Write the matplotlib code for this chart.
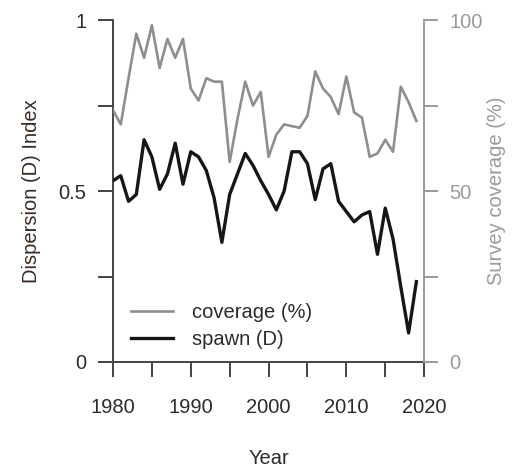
import matplotlib
matplotlib.use("Agg")
import matplotlib.pyplot as plt

years = list(range(1980, 2020))
spawn = [0.53, 0.545, 0.47, 0.49, 0.65, 0.60, 0.505, 0.55, 0.64, 0.52,
         0.615, 0.60, 0.56, 0.48, 0.35, 0.49, 0.55, 0.61, 0.575, 0.53,
         0.49, 0.445, 0.50, 0.615, 0.615, 0.58, 0.475, 0.565, 0.58, 0.47,
         0.44, 0.41, 0.43, 0.44, 0.315, 0.45, 0.36, 0.22, 0.085, 0.235]
coverage = [73.7, 69.5, 83, 96, 89, 98.5, 86, 94.5, 89, 94.5,
            80, 76.5, 83, 82, 82, 58.5, 71, 82, 75, 79,
            60, 66.5, 69.5, 69, 68.5, 72, 85, 80, 77.5, 72.5,
            83.5, 73, 71.5, 60, 61, 65, 61.5, 80.5, 76, 70.5]

x_ticks = [1980, 1985, 1990, 1995, 2000, 2005, 2010, 2015, 2020]
x_labels = ["1980", "", "1990", "", "2000", "", "2010", "", "2020"]
d_ticks = [0, 0.25, 0.5, 0.75, 1]
d_labels = ["0", "", "0.5", "", "1"]
cov_ticks = [0, 25, 50, 75, 100]
cov_labels = ["0", "", "50", "", "100"]

DARK = "#2b2b2b"
GREY = "#8e8e8e"
AXIS_GREY = "#9a9a9a"

plt.rcParams.update({
    "font.family": ["Liberation Sans", "DejaVu Sans"],
    "font.size": 14.5,
})

fig = plt.figure(figsize=(5.23, 4.68), dpi=100)
ax = fig.add_axes([0.216, 0.2265, 0.595, 0.7305])
ax2 = ax.twinx()

ax.plot(years, spawn, color="#161616", lw=2.4, label="spawn (D)", zorder=3)
ax2.plot(years, coverage, color=GREY, lw=1.9, label="coverage (%)")

ax.set_xlim(1980, 2020)
ax.set_ylim(0, 1)
ax2.set_ylim(0, 100)

ax.set_xticks(x_ticks, x_labels)
ax.set_yticks(d_ticks, d_labels)
ax2.set_yticks(cov_ticks, cov_labels)

for side in ("top", "right"):
    ax.spines[side].set_visible(False)
for side in ("top", "left", "bottom"):
    ax2.spines[side].set_visible(False)
ax.spines["left"].set_color("#444444")
ax.spines["bottom"].set_color("#444444")
ax2.spines["right"].set_color(AXIS_GREY)
for sp in ("left", "bottom"):
    ax.spines[sp].set_linewidth(1.4)
ax2.spines["right"].set_linewidth(1.4)

ax.tick_params(axis="both", direction="out", length=11, width=1.4,
               color="#444444", labelcolor=DARK, pad=8)
ax.tick_params(axis="x", pad=15)
ax2.tick_params(axis="y", direction="out", length=10, width=1.4,
                color=AXIS_GREY, labelcolor=AXIS_GREY, pad=8)

ax.set_xlabel("Year", color=DARK, labelpad=23)
ax.set_ylabel("Dispersion (D) Index", color="#3a2c24", labelpad=13)
ax2.set_ylabel("Survey coverage (%)", color=AXIS_GREY, labelpad=3)

h1, l1 = ax2.get_legend_handles_labels()
h2, l2 = ax.get_legend_handles_labels()
ax.legend(h1 + h2, l1 + l2, loc="lower left", bbox_to_anchor=(0.0, -0.015),
          frameon=False, handlelength=2.1, handletextpad=0.9,
          labelspacing=0.4, labelcolor=DARK)

fig.savefig("out.png", dpi=100, facecolor="white")
